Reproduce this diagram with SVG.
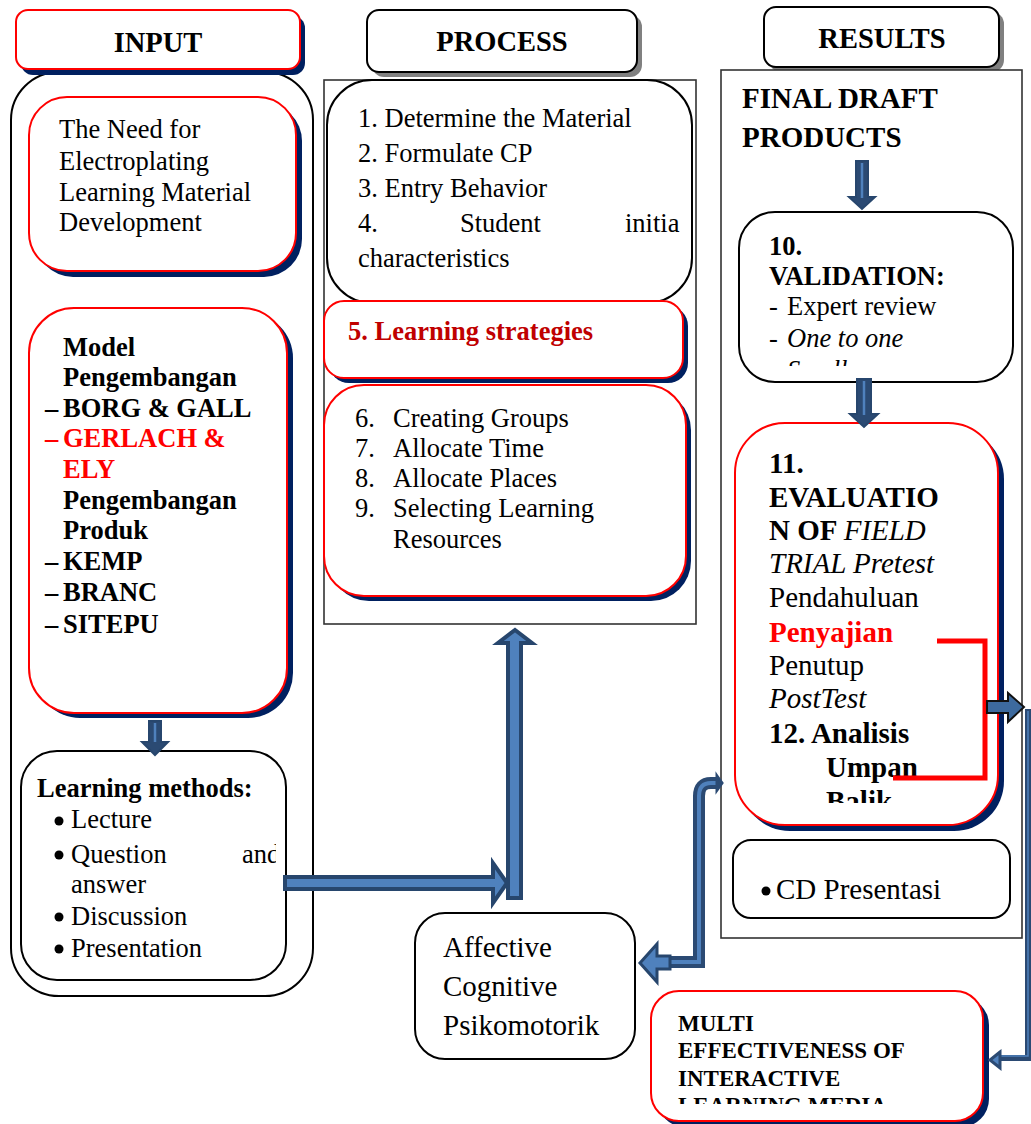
<svg xmlns="http://www.w3.org/2000/svg" width="1031" height="1124" viewBox="0 0 1031 1124">
<style>
.t{font-family:'Liberation Serif','Times New Roman',serif;font-size:26.5px;fill:#000}
.b{font-weight:bold}
.i{font-style:italic}
.red{fill:#ff0000}
.dred{fill:#c00000}
.hdr{font-size:28.5px;font-weight:bold;text-anchor:middle}
.big{font-size:29px}
.sm{font-size:23px}
.box{fill:#fff;stroke:#000;stroke-width:2}
.rbox{fill:#fff;stroke:#ff0000;stroke-width:2}
.frame{fill:#fff;stroke:#333;stroke-width:1.6}
.sh{fill:#002060}
.gsh{fill:#808080}
.arrow{fill:#4f81bd;stroke:#27466d;stroke-width:4;stroke-linejoin:miter}
.sarrow{fill:#2b4a73;stroke:#27466d;stroke-width:2;stroke-linejoin:miter}
.stripe{stroke:#4f81bd;stroke-width:2.5}
</style>
<defs>
<clipPath id="cpAnd"><rect x="200" y="830" width="76" height="50"/></clipPath>
<clipPath id="cpVal"><rect x="740" y="212" width="272" height="154"/></clipPath>
<clipPath id="cpEval"><rect x="736" y="424" width="260" height="379"/></clipPath>
<clipPath id="cpMulti"><rect x="652" y="992" width="330" height="112"/></clipPath>
</defs>

<!-- INPUT column -->
<g id="input-container">
<rect x="11" y="72" width="302" height="924" rx="48" class="box"/>
</g>
<g id="input-header">
<rect x="21" y="16" width="284" height="59" rx="12" class="sh"/>
<rect x="16" y="10" width="284" height="59" rx="12" class="rbox"/>
<text x="158" y="52" class="t hdr">INPUT</text>
</g>
<g id="need-box">
<rect x="35" y="103" width="267" height="174" rx="38" class="sh"/>
<rect x="29" y="97" width="267" height="174" rx="38" class="rbox"/>
<text class="t"><tspan x="59" y="138">The Need for</tspan><tspan x="59" y="170">Electroplating</tspan><tspan x="59" y="201">Learning Material</tspan><tspan x="59" y="231">Development</tspan></text>
</g>
<g id="model-box">
<rect x="35" y="313" width="258" height="405" rx="45" class="sh"/>
<rect x="29" y="308" width="258" height="405" rx="45" class="rbox"/>
<text class="t b">
<tspan x="63" y="356">Model</tspan>
<tspan x="63" y="386">Pengembangan</tspan>
<tspan x="45" y="417">–</tspan><tspan x="63" y="417">BORG &amp; GALL</tspan>
<tspan x="45" y="447" class="red">–</tspan><tspan x="63" y="447" class="red">GERLACH &amp;</tspan>
<tspan x="63" y="478" class="red">ELY</tspan>
<tspan x="63" y="509">Pengembangan</tspan>
<tspan x="63" y="539">Produk</tspan>
<tspan x="45" y="570">–</tspan><tspan x="63" y="570">KEMP</tspan>
<tspan x="45" y="601">–</tspan><tspan x="63" y="601">BRANC</tspan>
<tspan x="45" y="633">–</tspan><tspan x="63" y="633">SITEPU</tspan>
</text>
</g>
<g id="methods-box">
<rect x="21" y="751" width="265" height="229" rx="36" class="box"/>
<text x="37" y="797" class="t b">Learning methods:</text>
<circle cx="59" cy="821" r="4.5"/>
<circle cx="59" cy="855" r="4.5"/>
<circle cx="59" cy="917" r="4.5"/>
<circle cx="59" cy="949" r="4.5"/>
<text class="t"><tspan x="71" y="828">Lecture</tspan><tspan x="71" y="863">Question</tspan><tspan x="71" y="893">answer</tspan><tspan x="71" y="925">Discussion</tspan><tspan x="71" y="957">Presentation</tspan></text>
<text x="242" y="863" class="t" clip-path="url(#cpAnd)">and</text>
</g>

<!-- PROCESS column -->
<g id="process-header">
<rect x="372" y="15" width="270" height="62" rx="12" class="gsh"/>
<rect x="367" y="10" width="270" height="62" rx="12" class="box"/>
<text x="502" y="51" class="t hdr">PROCESS</text>
</g>
<g id="process-container">
<rect x="324" y="80" width="372" height="544" class="frame"/>
</g>
<g id="steps-1-4">
<rect x="327" y="80" width="365" height="223" rx="45" class="box"/>
<text class="t">
<tspan x="358" y="127">1. Determine the Material</tspan>
<tspan x="358" y="162">2. Formulate CP</tspan>
<tspan x="358" y="197">3. Entry Behavior</tspan>
<tspan x="358" y="232">4.</tspan><tspan x="460" y="232">Student</tspan><tspan x="625" y="232">initia</tspan>
<tspan x="358" y="267">characteristics</tspan>
</text>
</g>
<g id="step-5">
<rect x="329" y="306" width="359" height="77" rx="20" class="sh"/>
<rect x="324" y="301" width="359" height="77" rx="20" class="rbox"/>
<text x="348" y="340" class="t b dred">5. Learning strategies</text>
</g>
<g id="steps-6-9">
<rect x="329" y="390" width="362" height="211" rx="40" class="sh"/>
<rect x="324" y="385" width="362" height="211" rx="40" class="rbox"/>
<text class="t">
<tspan x="355" y="427">6.</tspan><tspan x="393" y="427">Creating Groups</tspan>
<tspan x="355" y="457">7.</tspan><tspan x="393" y="457">Allocate Time</tspan>
<tspan x="355" y="487">8.</tspan><tspan x="393" y="487">Allocate Places</tspan>
<tspan x="355" y="517">9.</tspan><tspan x="393" y="517">Selecting Learning</tspan>
<tspan x="393" y="548">Resources</tspan>
</text>
</g>
<g id="affective-box">
<rect x="415" y="913" width="220" height="146" rx="30" class="box"/>
<text class="t big"><tspan x="443" y="957">Affective</tspan><tspan x="443" y="996">Cognitive</tspan><tspan x="443" y="1035">Psikomotorik</tspan></text>
</g>

<!-- RESULTS column -->
<g id="results-header">
<rect x="769" y="12" width="235" height="60" rx="12" class="gsh"/>
<rect x="764" y="7" width="235" height="60" rx="12" class="box"/>
<text x="882" y="48" class="t hdr">RESULTS</text>
</g>
<g id="results-container">
<rect x="721" y="70" width="301" height="868" class="frame"/>
<text class="t b big"><tspan x="742" y="108">FINAL DRAFT</tspan><tspan x="742" y="147">PRODUCTS</tspan></text>
</g>
<g id="validation-box">
<rect x="739" y="212" width="274" height="170" rx="36" class="box"/>
<text class="t b"><tspan x="769" y="255">10.</tspan><tspan x="769" y="285">VALIDATION:</tspan></text>
<text class="t"><tspan x="769" y="315">-</tspan><tspan x="787" y="315">Expert review</tspan><tspan x="769" y="347">-</tspan><tspan x="787" y="347" class="i">One to one</tspan></text>
<text x="787" y="379" class="t i" clip-path="url(#cpVal)">Small</text>
</g>
<g id="evaluation-box">
<rect x="740" y="429" width="264" height="402" rx="50" class="sh"/>
<rect x="735" y="423" width="263" height="402" rx="50" class="rbox"/>
<g clip-path="url(#cpEval)">
<text class="t big">
<tspan x="769" y="473" class="b">11.</tspan>
<tspan x="769" y="507" class="b">EVALUATIO</tspan>
<tspan x="769" y="540" class="b">N OF </tspan><tspan class="i">FIELD</tspan>
<tspan x="769" y="573" class="i">TRIAL Pretest</tspan>
<tspan x="769" y="607">Pendahuluan</tspan>
<tspan x="769" y="642" class="b red">Penyajian</tspan>
<tspan x="769" y="675">Penutup</tspan>
<tspan x="769" y="708" class="i">PostTest</tspan>
<tspan x="769" y="743" class="b">12. Analisis</tspan>
<tspan x="826" y="777" class="b">Umpan</tspan>
<tspan x="826" y="811" class="b">Balik</tspan>
</text>
</g>
<path d="M937,641 H985 V778 H893" fill="none" stroke="#ff0000" stroke-width="5"/>
</g>
<g id="cd-box">
<rect x="733" y="840" width="277" height="78" rx="18" class="box"/>
<circle cx="766" cy="891" r="4.5"/>
<text x="776" y="899" class="t big">CD Presentasi</text>
</g>
<g id="multi-box">
<rect x="657" y="997" width="332" height="130" rx="28" class="sh"/>
<rect x="651" y="991" width="332" height="130" rx="28" class="rbox"/>
<g clip-path="url(#cpMulti)">
<text class="t b sm"><tspan x="678" y="1031">MULTI</tspan><tspan x="678" y="1058">EFFECTIVENESS OF</tspan><tspan x="678" y="1086">INTERACTIVE</tspan><tspan x="678" y="1113">LEARNING MEDIA</tspan></text>
</g>
</g>

<!-- connectors -->
<g id="connectors">
<polygon class="sarrow" points="149,721 161,721 161,742 168,742 155,755 142,742 149,742"/>
<line class="stripe" x1="155" y1="723" x2="155" y2="742"/>
<polygon class="arrow" points="285,877 493,877 493,863 507,883 493,903 493,889 285,889"/>
<polygon class="arrow" points="508,898 508,643 498,643 515,630 532,643 521,643 521,898"/>
<polygon class="sarrow" points="856,161 868,161 868,197 875,197 862,209 849,197 856,197"/>
<line class="stripe" x1="862" y1="163" x2="862" y2="198"/>
<polygon class="sarrow" points="857,379 871,379 871,414 878,414 864,427 850,414 857,414"/>
<line class="stripe" x1="864" y1="381" x2="864" y2="415"/>
<polygon points="987,701 1008,701 1008,693 1024,707 1008,722 1008,713 987,713" fill="#3d6a9e" stroke="#111" stroke-width="2"/>
<path d="M1028,709 V1058 H996" fill="none" stroke="#2b4a73" stroke-width="6"/>
<path d="M1028,711 V1056 H998" fill="none" stroke="#4f81bd" stroke-width="1.5"/>
<polygon points="1000,1052 990,1060 1000,1068" fill="#4f81bd" stroke="#2b4a73" stroke-width="3"/>
<path d="M716,783 H711 Q699,783 699,796 V962 H655" fill="none" stroke="#2b4a73" stroke-width="12"/>
<path d="M716,783 H711 Q699,783 699,796 V962 H655" fill="none" stroke="#4f81bd" stroke-width="4"/>
<polygon points="717,776 722,783 717,790" fill="#2b4a73" stroke="#2b4a73" stroke-width="3"/>
<polygon points="657,944 640,963 657,982 657,969 670,969 670,956 657,956" fill="#4f81bd" stroke="#27466d" stroke-width="3"/>
</g>
</svg>
